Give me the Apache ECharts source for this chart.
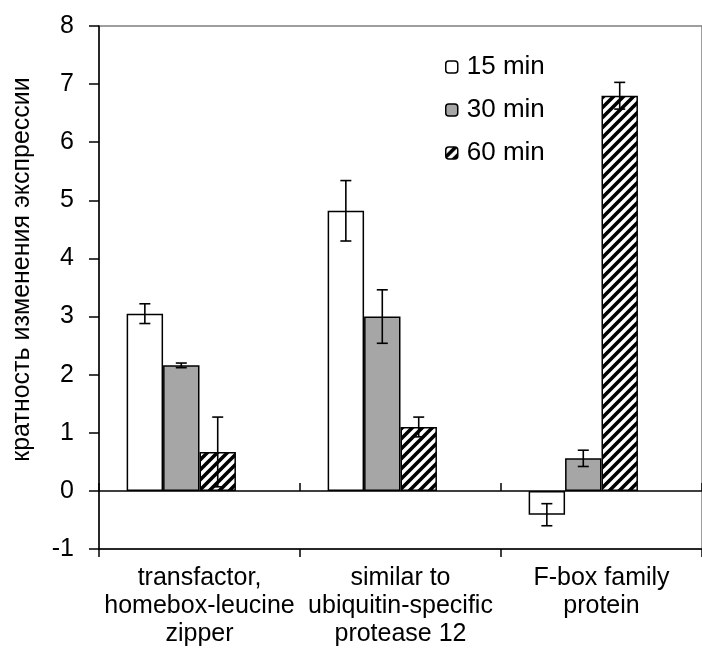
<!DOCTYPE html>
<html>
<head>
<meta charset="utf-8">
<script src="https://cdn.jsdelivr.net/npm/echarts@6/dist/echarts.min.js"></script>
<style>
html,body{margin:0;padding:0;background:#fff;}
#chart{width:702px;height:652px;}
</style>
</head>
<body>
<div id="chart"></div>
<script>
var categories = ['transfactor,\nhomebox-leucine\nzipper', 'similar to\nubiquitin-specific\nprotease 12', 'F-box family\nprotein'];
var seriesNames = ['15 min', '30 min', '60 min'];
var values15 = [3.05, 4.82, -0.41];
var values30 = [2.16, 3.00, 0.56];
var values60 = [0.67, 1.10, 6.80];
var errors15 = [0.17, 0.52, 0.19];
var errors30 = [0.04, 0.46, 0.14];
var errors60 = [0.60, 0.17, 0.23];
var yTicks = { min: -1, max: 8, interval: 1 };
var yTitle = 'кратность изменения экспрессии';

var FONT = '"Liberation Sans", Arial, sans-serif';
var CAT_GAP = 0.275;
var NSLOTS = 4;

function makeHatch() {
  var c = document.createElement('canvas');
  c.width = 10; c.height = 10;
  var ctx = c.getContext('2d');
  ctx.fillStyle = '#fff';
  ctx.fillRect(0, 0, 10, 10);
  ctx.strokeStyle = '#000';
  ctx.lineWidth = 3.6;
  ctx.beginPath();
  ctx.moveTo(-5, 5); ctx.lineTo(5, -5);
  ctx.moveTo(0, 10); ctx.lineTo(10, 0);
  ctx.moveTo(5, 15); ctx.lineTo(15, 5);
  ctx.stroke();
  return c;
}

var fills = ['#ffffff', '#a6a6a6', { image: makeHatch(), repeat: 'repeat' }];
var valueSets = [values15, values30, values60];
var errorSets = [errors15, errors30, errors60];

var series = [];
valueSets.forEach(function (vals, k) {
  series.push({
    type: 'bar',
    name: seriesNames[k],
    xAxisIndex: 1,
    data: vals,
    barGap: '0%',
    barCategoryGap: (CAT_GAP * 100) + '%',
    itemStyle: { color: fills[k], borderColor: '#000', borderWidth: 1.5 },
    emphasis: { disabled: true },
    z: 2
  });
});
// empty 4th slot (reserved space, as in the original layout)
series.push({
  type: 'bar', name: 'blank', xAxisIndex: 1,
  data: [null, null, null],
  barGap: '0%', barCategoryGap: (CAT_GAP * 100) + '%',
  itemStyle: { color: 'transparent' }, z: 2
});

valueSets.forEach(function (vals, k) {
  var data = vals.map(function (v, i) { return [i, v, errorSets[k][i]]; });
  series.push({
    type: 'custom',
    name: 'err' + k,
    xAxisIndex: 1,
    z: 10,
    silent: true,
    data: data,
    renderItem: function (params, api) {
      var ci = api.value(0), v = api.value(1), e = api.value(2);
      var bandW = api.size([1, 0])[0];
      var bw = bandW * (1 - CAT_GAP) / NSLOTS;
      var cx = api.coord([ci, v])[0] + (k - (NSLOTS - 1) / 2) * bw;
      var yTop = api.coord([ci, v + e])[1];
      var yBot = api.coord([ci, v - e])[1];
      var cap = 5.5;
      var st = { stroke: '#000', lineWidth: 1.6 };
      return {
        type: 'group',
        children: [
          { type: 'line', shape: { x1: cx, y1: yTop, x2: cx, y2: yBot }, style: st },
          { type: 'line', shape: { x1: cx - cap, y1: yTop, x2: cx + cap, y2: yTop }, style: st },
          { type: 'line', shape: { x1: cx - cap, y1: yBot, x2: cx + cap, y2: yBot }, style: st }
        ]
      };
    }
  });
});

var chart = echarts.init(document.getElementById('chart'), null, { renderer: 'canvas' });
chart.setOption({
  animation: false,
  backgroundColor: '#fff',
  textStyle: { fontFamily: FONT },
  grid: {
    left: 99, top: 26, width: 612, height: 523,
    show: true, borderColor: '#7f7f7f', borderWidth: 1.5, backgroundColor: 'transparent'
  },
  legend: {
    orient: 'vertical',
    left: 440, top: 49,
    data: seriesNames,
    itemWidth: 12, itemHeight: 12,
    itemGap: 17,
    selectedMode: false,
    textStyle: { fontFamily: FONT, fontSize: 26, color: '#000', padding: [0, 0, 0, 4] },
    itemStyle: { borderColor: '#000', borderWidth: 1.5 }
  },
  xAxis: [
    {
      type: 'category', data: categories, position: 'bottom',
      axisLine: { onZero: false, show: false },
      axisTick: { show: false },
      axisLabel: { fontFamily: FONT, fontSize: 25, color: '#000', lineHeight: 28, margin: 15, interval: 0 }
    },
    {
      type: 'category', data: categories, position: 'bottom',
      axisLine: { onZero: true, lineStyle: { color: '#000', width: 1.5 } },
      axisTick: { show: true, inside: true, length: 8, lineStyle: { color: '#000', width: 1.5 } },
      axisLabel: { show: false }
    },
    {
      type: 'category', data: categories, position: 'bottom',
      axisLine: { onZero: true, lineStyle: { color: '#000', width: 1.5 } },
      axisTick: { show: true, inside: false, length: 8, lineStyle: { color: '#000', width: 1.5 } },
      axisLabel: { show: false }
    }
  ],
  yAxis: {
    type: 'value', min: yTicks.min, max: yTicks.max, interval: yTicks.interval,
    name: yTitle, nameLocation: 'middle', nameGap: 64,
    nameTextStyle: { fontFamily: FONT, fontSize: 25, color: '#000', padding: [0, 0, 0, 36] },
    axisLine: { show: true, lineStyle: { color: '#000', width: 1.5 } },
    axisTick: { show: true, length: 10, lineStyle: { color: '#000', width: 1.5 } },
    axisLabel: { fontFamily: FONT, fontSize: 25, color: '#000', margin: 25 },
    splitLine: { show: false }
  },
  series: series
});
</script>
</body>
</html>
